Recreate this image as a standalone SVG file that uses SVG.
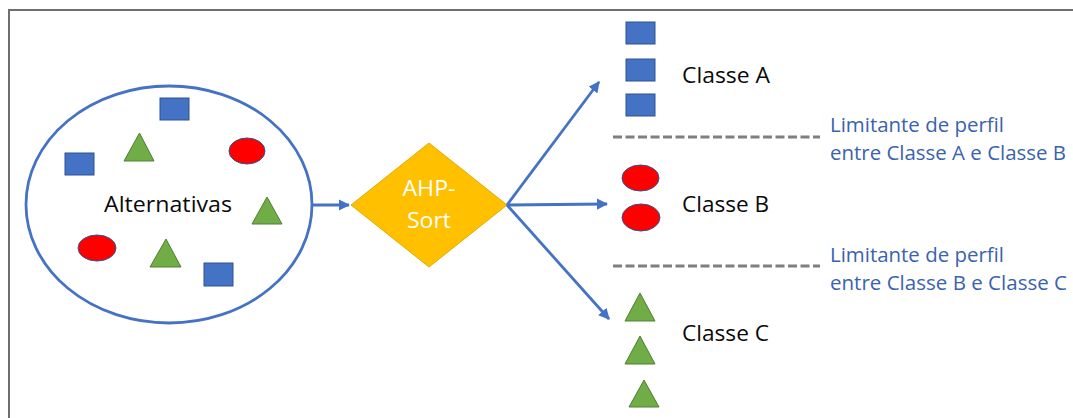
<svg xmlns="http://www.w3.org/2000/svg" width="1073" height="418" viewBox="0 0 1073 418">
  <style>
    .frame { fill: none; stroke: #6e6e6e; stroke-width: 2; }
    .sq { fill: #4472C4; stroke: #2F528F; stroke-width: 1; }
    .tri { fill: #70AD47; stroke: #507E32; stroke-width: 1; }
    .red { fill: #FF0000; stroke: #2F528F; stroke-width: 1; }
    .conn { fill: none; stroke: #4472C4; stroke-width: 2.8; }
    .dash { fill: none; stroke: #7F7F7F; stroke-width: 3; stroke-dasharray: 9 3.5; }
    text { font-family: "Open Sans", "Noto Sans", sans-serif; font-size: 21.5px; }
    .lbl { fill: #0a0a0a; }
    .note { fill: #3A62B0; font-size: 20.5px; }
    .white { fill: #ffffff; text-anchor: middle; }
  </style>
  <defs>
    <marker id="arrow" viewBox="0 0 10 10" refX="9" refY="5" markerWidth="4" markerHeight="4" orient="auto" markerUnits="strokeWidth">
      <path d="M0,0 L10,5 L0,10 Z" fill="#4472C4"/>
    </marker>
  </defs>

  <rect class="frame" x="9" y="10" width="1080" height="420"/>

  <!-- set of alternatives -->
  <g id="alternativas">
    <ellipse cx="169" cy="204.5" rx="143" ry="118.5" fill="#ffffff" stroke="#4472C4" stroke-width="2.8"/>
    <rect class="sq" x="160" y="98" width="29" height="22"/>
    <rect class="sq" x="65" y="153" width="29" height="22"/>
    <rect class="sq" x="204" y="263" width="29" height="23"/>
    <polygon class="tri" points="139.5,133 124,161 154,161"/>
    <polygon class="tri" points="267,197 252,224 282,224"/>
    <polygon class="tri" points="166,239 150,267 181,267"/>
    <ellipse class="red" cx="247" cy="151" rx="18" ry="13"/>
    <ellipse class="red" cx="97" cy="248" rx="19" ry="13"/>
    <text class="lbl" x="104" y="212" textLength="128" lengthAdjust="spacingAndGlyphs">Alternativas</text>
  </g>

  <!-- sorting method -->
  <g id="ahp-sort">
    <polygon points="351,205 429,143 507,205 429,267" fill="#FFC000" stroke="#E3AC00" stroke-width="1"/>
    <text class="white" x="429" y="196" textLength="53" lengthAdjust="spacingAndGlyphs">AHP-</text>
    <text class="white" x="429" y="228" textLength="44" lengthAdjust="spacingAndGlyphs">Sort</text>
  </g>

  <!-- connectors -->
  <g id="connectors">
    <line class="conn" x1="312" y1="205" x2="349" y2="205" marker-end="url(#arrow)"/>
    <line class="conn" x1="507" y1="205" x2="599" y2="82" marker-end="url(#arrow)"/>
    <line class="conn" x1="507" y1="205" x2="607" y2="204" marker-end="url(#arrow)"/>
    <line class="conn" x1="507" y1="205" x2="609" y2="319" marker-end="url(#arrow)"/>
  </g>

  <!-- class A -->
  <g id="classe-a">
    <rect class="sq" x="626" y="22" width="29" height="22"/>
    <rect class="sq" x="626" y="59" width="29" height="22"/>
    <rect class="sq" x="626" y="94" width="29" height="22"/>
    <text class="lbl" x="682" y="83" textLength="88" lengthAdjust="spacingAndGlyphs">Classe A</text>
  </g>

  <!-- profile boundary A/B -->
  <g id="limite-ab">
    <line class="dash" x1="613" y1="137" x2="820" y2="137"/>
    <text class="note" x="830" y="131.5" textLength="174" lengthAdjust="spacingAndGlyphs">Limitante de perfil</text>
    <text class="note" x="830" y="159.5" textLength="236" lengthAdjust="spacingAndGlyphs">entre Classe A e Classe B</text>
  </g>

  <!-- class B -->
  <g id="classe-b">
    <ellipse class="red" cx="640.5" cy="178" rx="18.5" ry="13"/>
    <ellipse class="red" cx="641" cy="217.5" rx="19" ry="13.5"/>
    <text class="lbl" x="682" y="212" textLength="87" lengthAdjust="spacingAndGlyphs">Classe B</text>
  </g>

  <!-- profile boundary B/C -->
  <g id="limite-bc">
    <line class="dash" x1="613" y1="266" x2="820" y2="266"/>
    <text class="note" x="830" y="261.5" textLength="174" lengthAdjust="spacingAndGlyphs">Limitante de perfil</text>
    <text class="note" x="830" y="289.5" textLength="237" lengthAdjust="spacingAndGlyphs">entre Classe B e Classe C</text>
  </g>

  <!-- class C -->
  <g id="classe-c">
    <polygon class="tri" points="640,293 625,321 655,321"/>
    <polygon class="tri" points="640,336 625,364 655,364"/>
    <polygon class="tri" points="644,380 629,407 659,407"/>
    <text class="lbl" x="682" y="341" textLength="87" lengthAdjust="spacingAndGlyphs">Classe C</text>
  </g>
</svg>
